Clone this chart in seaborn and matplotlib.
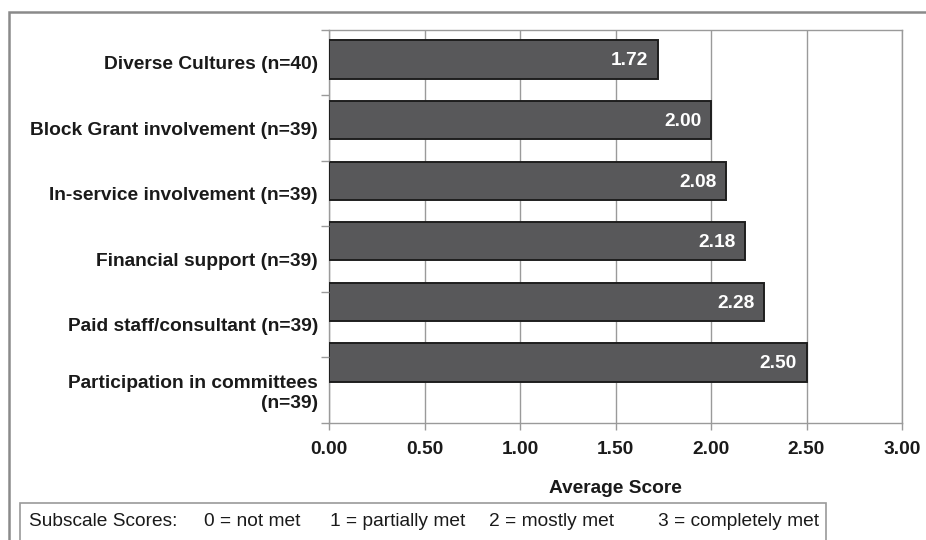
import matplotlib
matplotlib.use("Agg")
import matplotlib.pyplot as plt
from matplotlib.patches import Rectangle
import seaborn as sns
import pandas as pd

# Subscale items, sample sizes and mean scores
categories = [
    "Diverse Cultures (n=40)",
    "Block Grant involvement (n=39)",
    "In-service involvement (n=39)",
    "Financial support (n=39)",
    "Paid staff/consultant (n=39)",
    "Participation in committees\n(n=39)",
]
scores = [1.72, 2.00, 2.08, 2.18, 2.28, 2.50]
x_ticks = [0.0, 0.5, 1.0, 1.5, 2.0, 2.5, 3.0]
x_label = "Average Score"
key_items = [
    "Subscale Scores:",
    "0 = not met",
    "1 = partially met",
    "2 = mostly met",
    "3 = completely met",
]

sns.set_style("white")
plt.rcParams["font.family"] = ["Liberation Sans", "DejaVu Sans"]
plt.rcParams["font.size"] = 13.8

W, H = 926, 540
fig = plt.figure(figsize=(W / 100, H / 100), dpi=100)

def fx(px):
    return px / W

def fy(py):
    return 1 - py / H

# outer frame around the chart
fig.patches.append(Rectangle((fx(9), fy(560)), fx(940), fy(12) - fy(560),
                             transform=fig.transFigure, fill=False,
                             edgecolor="#8a8a8a", linewidth=1.8))

left, right, top, bottom = 329, 902, 30, 423
ax = fig.add_axes([fx(left), fy(bottom), fx(right - left), fy(top) - fy(bottom)])

df = pd.DataFrame({"category": categories, "score": scores})
sns.barplot(data=df, x="score", y="category", orient="h", ax=ax,
            color="#58585a", saturation=1, width=0.63,
            edgecolor="#1e1e1e", linewidth=1.4, zorder=3)

ax.set_xlim(0, 3)
ax.set_ylim(5.998, -0.487)
ax.set_xticks(x_ticks)
ax.set_xticklabels([f"{t:.2f}" for t in x_ticks], fontweight="bold", color="#1a1a1a")
ax.tick_params(axis="x", direction="out", length=5, width=1, color="#9a9a9a",
               pad=8, bottom=True)
ax.set_yticks([])
ax.set_ylabel("")
ax.set_xlabel(x_label, fontweight="bold", color="#1a1a1a", labelpad=16)
ax.grid(axis="x", color="#9a9a9a", linewidth=1, zorder=0)
ax.set_axisbelow(True)
for s in ax.spines.values():
    s.set_color("#9a9a9a")
    s.set_linewidth(1)
    s.set_visible(True)

# value labels inside the bar ends
for i, v in enumerate(scores):
    ax.annotate(f"{v:.2f}", xy=(v, i), xytext=(-7, -1), textcoords="offset points",
                ha="right", va="center", color="white", fontweight="bold", zorder=5)

# category axis with boundary ticks
ax2 = ax.twinx()
ax2.set_ylim(5.5, -0.5)
ax2.yaxis.set_ticks_position("left")
ax2.set_yticks(range(len(categories)))
ax2.set_yticklabels(categories, fontweight="bold", color="#1a1a1a")
ax2.set_yticks([i - 0.5 for i in range(len(categories) + 1)], minor=True)
ax2.tick_params(axis="y", which="major", length=0, pad=8)
ax2.tick_params(axis="y", which="minor", direction="out", length=6, width=1,
                color="#9a9a9a", left=True)
for s in ax2.spines.values():
    s.set_visible(False)

# scoring key box
fig.patches.append(Rectangle((fx(20), fy(560)), fx(826 - 20), fy(503) - fy(560),
                             transform=fig.transFigure, fill=False,
                             edgecolor="#9a9a9a", linewidth=1.2))
key_x = [29, 204, 330, 489, 658]
for x, t in zip(key_x, key_items):
    fig.text(fx(x), fy(522), t, ha="left", va="center", color="#1a1a1a")

fig.savefig("out.png", dpi=100)
